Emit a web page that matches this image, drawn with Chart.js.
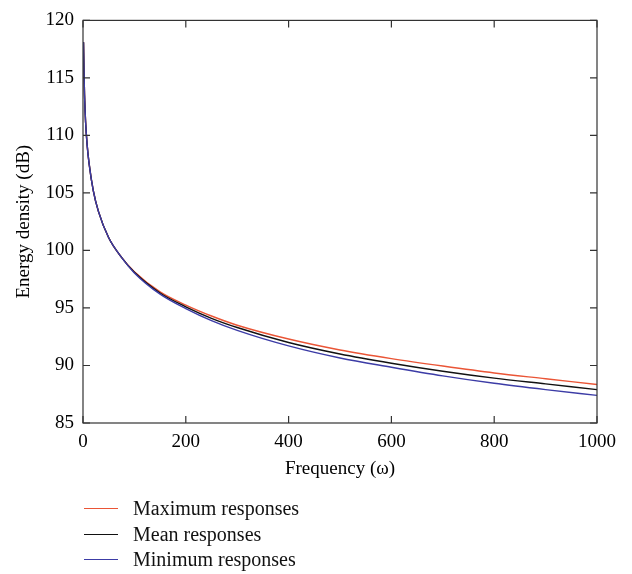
<!DOCTYPE html>
<html><head><meta charset="utf-8">
<script src="https://cdn.jsdelivr.net/npm/chart.js@4"></script>
<style>
body{margin:0;background:#fff}
#wrap{position:relative;width:632px;height:574px}
#legend{position:absolute;left:84px;top:496px;font-family:"Liberation Serif",serif;font-size:20px;color:#111}
.item{height:25.5px;display:flex;align-items:center;white-space:nowrap}
.sw{width:34px;height:0;border-top:1.5px solid;margin-right:15px}
</style></head><body>
<div id="wrap"><canvas id="c" width="632" height="574"></canvas>
<div id="legend"></div></div>
<script>
const frequency=[1,2,3,5,8,12,20,30,50,75,100,150,200,250,300,400,500,600,700,800,900,1000];
const maxResponses=[118.1,115.4,113.5,111.2,109.2,107.5,105.2,103.4,101.1,99.4,98.15,96.4,95.25,94.3,93.5,92.3,91.35,90.6,89.95,89.35,88.85,88.35];
const meanResponses=[118.1,115.4,113.5,111.2,109.2,107.5,105.2,103.4,101.1,99.4,98.1,96.3,95.1,94.1,93.3,92.0,91.0,90.2,89.5,88.9,88.4,87.9];
const minResponses=[118.1,115.4,113.5,111.2,109.2,107.5,105.2,103.4,101.1,99.4,98.05,96.2,94.95,93.9,93.05,91.7,90.65,89.85,89.1,88.45,87.9,87.4];
const seriesNames=['Maximum responses','Mean responses','Minimum responses'];
const seriesColors=['#ea5536','#111111','#3c3ca6'];
const xTicks=[0,200,400,600,800,1000];
const yTicks=[85,90,95,100,105,110,115,120];

const pts=arr=>frequency.map((f,i)=>({x:f,y:arr[i]}));
const allSeries=[maxResponses,meanResponses,minResponses];
const FONT='"Liberation Serif", "Times New Roman", serif';

const frame={id:'frame',afterDatasetsDraw(chart){
  const {ctx,chartArea:a,scales:{x,y}}=chart;
  ctx.save();ctx.strokeStyle='#333';ctx.lineWidth=1.2;
  ctx.strokeRect(a.left,a.top,a.right-a.left,a.bottom-a.top);
  ctx.beginPath();
  xTicks.forEach(v=>{const p=x.getPixelForValue(v);ctx.moveTo(p,a.bottom);ctx.lineTo(p,a.bottom-7);ctx.moveTo(p,a.top);ctx.lineTo(p,a.top+7);});
  yTicks.forEach(v=>{const p=y.getPixelForValue(v);ctx.moveTo(a.left,p);ctx.lineTo(a.left+7,p);ctx.moveTo(a.right,p);ctx.lineTo(a.right-7,p);});
  ctx.stroke();ctx.restore();
}};

new Chart(document.getElementById('c'),{
  type:'line',
  data:{datasets:allSeries.map((s,i)=>({label:seriesNames[i],data:pts(s),borderColor:seriesColors[i],borderWidth:1.4,pointRadius:0,fill:false,cubicInterpolationMode:'monotone',order:3-i}))},
  options:{
    responsive:false,animation:false,
    layout:{padding:{top:13,right:35,left:0,bottom:92}},
    plugins:{legend:{display:false},tooltip:{enabled:false}},
    scales:{
      x:{type:'linear',min:0,max:1000,
        afterBuildTicks:s=>{s.ticks=xTicks.map(v=>({value:v}));},
        afterFit:s=>{s.height=59;},
        grid:{display:false,drawTicks:false},border:{display:false},
        ticks:{color:'#000',font:{family:FONT,size:19},padding:8,maxRotation:0,callback:v=>String(v)},
        title:{display:true,text:'Frequency (ω)',color:'#000',font:{family:FONT,size:19},padding:{top:2,bottom:2}}},
      y:{type:'linear',min:85,max:120,
        afterBuildTicks:s=>{s.ticks=yTicks.map(v=>({value:v}));},
        afterFit:s=>{s.width=83;},
        grid:{display:false,drawTicks:false},border:{display:false},
        ticks:{color:'#000',font:{family:FONT,size:19},padding:9,callback:v=>String(v)},
        title:{display:true,text:'Energy density (dB)',color:'#000',font:{family:FONT,size:19},padding:{top:13,bottom:0}}}
    }
  },
  plugins:[frame]
});

const lg=document.getElementById('legend');
seriesNames.forEach((n,i)=>{const d=document.createElement('div');d.className='item';
  const sw=document.createElement('span');sw.className='sw';sw.style.borderColor=seriesColors[i];
  const t=document.createElement('span');t.textContent=n;d.appendChild(sw);d.appendChild(t);lg.appendChild(d);});
</script>
</body></html>
